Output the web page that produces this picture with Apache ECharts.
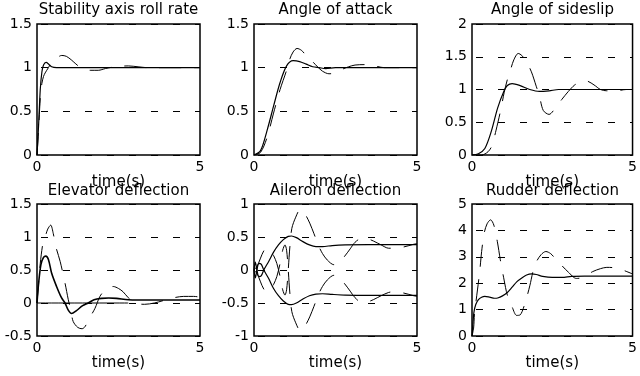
<!DOCTYPE html>
<html><head><meta charset="utf-8">
<script src="https://cdn.jsdelivr.net/npm/echarts@6/dist/echarts.min.js"></script>
<style>html,body{margin:0;padding:0;background:#fff}#c{width:640px;height:376px}</style>
</head><body><div id="c"></div>
<script>
// ---- data: [time (s), value] ----
const titles = ["Stability axis roll rate","Angle of attack","Angle of sideslip","Elevator deflection","Aileron deflection","Rudder deflection"];
const xLabel = "time(s)";
const yMin = [0, 0, 0, -0.5, -1, 0];
const yMax = [1.5, 1.5, 2, 1.5, 1, 5];
const yStep = [0.5, 0.5, 0.5, 0.5, 0.5, 1];

const rollSolid = [[0,0],[0.05,0.35],[0.1,0.75],[0.15,0.95],[0.2,1.03],[0.28,1.06],[0.36,1.04],[0.45,1.01],[0.6,1.0],[1,1.0],[5,1.0]];
const rollDashed = [[0,0],[0.05,0.3],[0.1,0.65],[0.15,0.82],[0.2,0.9],[0.25,0.94],[0.35,1.0],[0.45,1.06],[0.6,1.11],[0.76,1.14],[0.9,1.13],[1.05,1.09],[1.17,1.05],[1.3,1.01],[1.45,0.98],[1.63,0.97],[1.88,0.97],[2.1,0.99],[2.3,1.005],[2.5,1.015],[2.8,1.02],[3.1,1.01],[3.4,1.0],[5,1.0]];

const aoaSolid = [[0,0],[0.2,0.05],[0.4,0.28],[0.6,0.56],[0.8,0.83],[1.0,1.02],[1.2,1.08],[1.4,1.07],[1.6,1.04],[1.8,1.01],[2.0,1.0],[2.2,0.99],[2.5,1.0],[5,1.0]];
const aoaDashed = [[0,0],[0.2,0.03],[0.4,0.2],[0.6,0.48],[0.8,0.75],[1.0,0.97],[1.1,1.1],[1.2,1.18],[1.32,1.22],[1.45,1.2],[1.6,1.14],[1.77,1.08],[1.95,1.01],[2.1,0.96],[2.3,0.93],[2.5,0.94],[2.7,0.98],[2.9,1.01],[3.1,1.03],[3.4,1.035],[3.7,1.02],[4.0,1.0],[5,1.0]];

const betaSolid = [[0,0],[0.2,0.02],[0.4,0.1],[0.6,0.36],[0.8,0.72],[1.0,0.98],[1.1,1.06],[1.25,1.09],[1.5,1.06],[1.8,1.0],[2.1,0.97],[2.4,0.98],[2.7,1.0],[5,1.0]];
const betaDashed = [[0,0],[0.3,0.0],[0.5,0.05],[0.62,0.14],[0.75,0.38],[0.9,0.7],[1.0,0.95],[1.1,1.15],[1.2,1.3],[1.3,1.45],[1.44,1.55],[1.55,1.52],[1.7,1.42],[1.85,1.27],[2.0,1.05],[2.1,0.9],[2.22,0.68],[2.4,0.62],[2.6,0.72],[2.8,0.85],[3.0,0.97],[3.2,1.07],[3.4,1.12],[3.56,1.13],[3.8,1.07],[4.0,1.0],[4.2,0.98],[4.5,0.98],[4.8,1.0],[5,1.0]];

const elevSolid = [[0,0],[0.05,0.3],[0.12,0.58],[0.2,0.69],[0.27,0.71],[0.35,0.66],[0.45,0.45],[0.6,0.25],[0.75,0.08],[0.86,0.0],[0.95,-0.1],[1.06,-0.16],[1.2,-0.12],[1.4,-0.04],[1.57,0.0],[1.75,0.05],[1.98,0.07],[2.2,0.075],[2.44,0.07],[2.8,0.05],[3.5,0.045],[5,0.045]];
const elevDashed = [[0,0],[0.04,0.25],[0.1,0.6],[0.18,0.9],[0.25,1.0],[0.33,1.12],[0.42,1.18],[0.5,1.05],[0.58,0.85],[0.71,0.63],[0.86,0.3],[0.96,0.05],[1.04,-0.12],[1.11,-0.28],[1.25,-0.37],[1.38,-0.39],[1.47,-0.36],[1.62,-0.22],[1.78,-0.08],[1.93,0.1],[2.1,0.2],[2.34,0.25],[2.5,0.22],[2.64,0.17],[2.8,0.08],[3.0,0.0],[3.3,-0.02],[3.6,0.0],[3.9,0.04],[4.2,0.08],[4.5,0.1],[4.8,0.1],[5,0.09]];
const elevRef = [[0,0],[2.8,0]];

const ailUpperSolid = [[0,0],[0.04,0.12],[0.09,0.0],[0.15,-0.1],[0.22,-0.09],[0.3,0.0],[0.45,0.13],[0.6,0.27],[0.75,0.38],[0.9,0.46],[1.05,0.51],[1.15,0.515],[1.3,0.49],[1.5,0.43],[1.7,0.38],[1.9,0.355],[2.1,0.355],[2.4,0.37],[2.8,0.38],[3.5,0.385],[5,0.385]];
const ailLowerSolid = [[0,0],[0.04,-0.12],[0.09,0.0],[0.15,0.1],[0.22,0.09],[0.3,0.0],[0.45,-0.13],[0.6,-0.28],[0.75,-0.39],[0.9,-0.47],[1.05,-0.52],[1.15,-0.525],[1.3,-0.5],[1.5,-0.44],[1.7,-0.39],[1.9,-0.365],[2.1,-0.36],[2.4,-0.37],[2.8,-0.38],[3.5,-0.385],[5,-0.385]];
const ailUpperDashed = [[0,0],[0.1,0.06],[0.2,0.18],[0.3,0.29],[0.4,0.33],[0.5,0.3],[0.6,0.22],[0.7,0.1],[0.8,-0.1],[0.88,-0.3],[0.95,-0.38],[1.0,-0.3],[1.05,0.0],[1.1,0.35],[1.16,0.63],[1.28,0.8],[1.41,0.91],[1.5,0.9],[1.6,0.82],[1.71,0.71],[1.84,0.55],[1.97,0.38],[2.1,0.25],[2.25,0.15],[2.45,0.08],[2.6,0.12],[2.75,0.19],[2.95,0.32],[3.1,0.42],[3.3,0.48],[3.5,0.47],[3.66,0.44],[3.9,0.38],[4.13,0.33],[4.3,0.33],[4.6,0.35],[4.9,0.39],[5,0.4]];
const ailLowerDashed = [[0,0],[0.1,-0.06],[0.2,-0.18],[0.3,-0.29],[0.4,-0.33],[0.5,-0.3],[0.6,-0.22],[0.7,-0.1],[0.8,0.1],[0.88,0.3],[0.95,0.38],[1.0,0.3],[1.05,0.0],[1.1,-0.35],[1.16,-0.63],[1.28,-0.8],[1.41,-0.91],[1.5,-0.9],[1.6,-0.82],[1.71,-0.71],[1.84,-0.55],[1.97,-0.38],[2.1,-0.25],[2.25,-0.15],[2.45,-0.08],[2.6,-0.12],[2.75,-0.19],[2.95,-0.32],[3.1,-0.42],[3.3,-0.49],[3.5,-0.48],[3.66,-0.45],[3.9,-0.39],[4.13,-0.34],[4.3,-0.33],[4.6,-0.35],[4.9,-0.39],[5,-0.4]];

const rudSolid = [[0,0],[0.03,0.5],[0.06,0.9],[0.12,1.2],[0.2,1.38],[0.3,1.47],[0.4,1.5],[0.55,1.47],[0.7,1.43],[0.8,1.44],[0.95,1.52],[1.1,1.65],[1.25,1.85],[1.4,2.06],[1.55,2.2],[1.7,2.31],[1.86,2.35],[2.0,2.33],[2.2,2.26],[2.5,2.22],[2.8,2.22],[3.1,2.26],[3.5,2.27],[5,2.27]];
const rudDashed = [[0,0],[0.05,0.3],[0.08,0.9],[0.13,1.36],[0.24,2.44],[0.3,3.2],[0.38,3.9],[0.47,4.25],[0.58,4.4],[0.68,4.2],[0.79,3.57],[0.88,2.9],[1.0,2.12],[1.1,1.55],[1.25,1.1],[1.39,0.78],[1.5,0.8],[1.65,1.24],[1.8,1.9],[1.91,2.5],[2.0,2.8],[2.15,3.08],[2.3,3.2],[2.45,3.12],[2.6,2.92],[2.78,2.69],[3.0,2.42],[3.25,2.18],[3.45,2.22],[3.76,2.44],[4.0,2.55],[4.2,2.6],[4.4,2.59],[4.55,2.56],[4.8,2.45],[5,2.35]];

// ---- layout ----
const lefts = [37, 254, 472];
const widths = [163, 163, 161];
const tops = [24, 204];
const heights = [131, 132];
const FONT = "DejaVu Sans";

const grids = [], xAxes = [], yAxes = [], titleArr = [];
for (let i = 0; i < 6; i++) {
  const r = Math.floor(i / 3), c = i % 3;
  grids.push({left: lefts[c], width: widths[c], top: tops[r], height: heights[r],
    show: true, borderColor: '#000', borderWidth: 1.5, backgroundColor: '#fff'});
  xAxes.push({type: 'value', gridIndex: i, min: 0, max: 5, interval: 5,
    axisLine: {show: false}, axisTick: {show: false}, splitLine: {show: false},
    axisLabel: {color: '#000', fontFamily: FONT, fontSize: 14, margin: 5},
    name: xLabel, nameLocation: 'middle', nameGap: 20,
    nameTextStyle: {color: '#000', fontFamily: FONT, fontSize: 15}});
  yAxes.push({type: 'value', gridIndex: i, min: yMin[i], max: yMax[i], interval: yStep[i],
    axisLine: {show: false}, axisTick: {show: false},
    splitLine: {show: true, lineStyle: {color: '#000', width: 1, type: [7, 15], dashOffset: -4}},
    axisLabel: {color: '#000', fontFamily: FONT, fontSize: 14, margin: 5}});
  titleArr.push({text: titles[i], left: lefts[c] + widths[c] / 2, top: r === 0 ? 3 : 184, textAlign: 'center', padding: 0,
    textStyle: {color: '#000', fontFamily: FONT, fontSize: 15, fontWeight: 'normal'}});
}

function solid(data, idx, w) {
  return {type: 'line', data: data, xAxisIndex: idx, yAxisIndex: idx, showSymbol: false, smooth: 0.3,
    lineStyle: {color: '#000', width: w || 1.2, type: 'solid'}, silent: true, animation: false};
}
function dashed(data, idx) {
  return {type: 'line', data: data, xAxisIndex: idx, yAxisIndex: idx, showSymbol: false, smooth: 0.3,
    lineStyle: {color: '#000', width: 1, type: [22, 13]}, silent: true, animation: false};
}

const series = [
  solid(rollSolid, 0), dashed(rollDashed, 0),
  solid(aoaSolid, 1), dashed(aoaDashed, 1),
  solid(betaSolid, 2), dashed(betaDashed, 2),
  solid(elevRef, 3, 1), solid(elevSolid, 3, 1.6), dashed(elevDashed, 3),
  solid(ailUpperSolid, 4), solid(ailLowerSolid, 4), dashed(ailUpperDashed, 4), dashed(ailLowerDashed, 4),
  solid(rudSolid, 5), dashed(rudDashed, 5)
];

const chart = echarts.init(document.getElementById('c'), null, {renderer: 'canvas'});
chart.setOption({animation: false, backgroundColor: '#fff', title: titleArr, grid: grids, xAxis: xAxes, yAxis: yAxes, series: series});
</script></body></html>
